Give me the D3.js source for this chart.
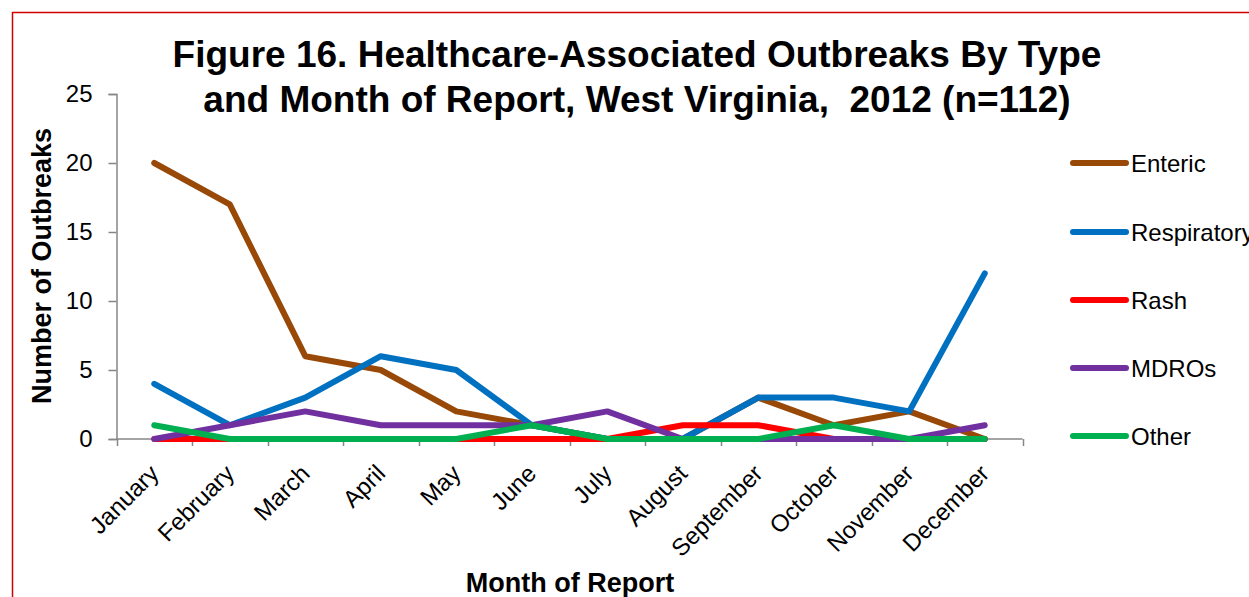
<!DOCTYPE html>
<html>
<head>
<meta charset="utf-8">
<script src="https://cdn.jsdelivr.net/npm/d3@7"></script>
<style>
  html, body { margin: 0; padding: 0; background: #fff; }
  svg { display: block; font-family: Arial, "Liberation Sans", sans-serif; }
</style>
</head>
<body>
<svg id="chart" width="1249" height="597"></svg>
<script>
// Healthcare-associated outbreaks by type and month, West Virginia 2012
const months = ["January", "February", "March", "April", "May", "June",
                "July", "August", "September", "October", "November", "December"];
const enteric     = [20, 17, 6, 5, 2, 1, 0, 0, 3, 1, 2, 0];
const respiratory = [4, 1, 3, 6, 5, 1, 0, 0, 3, 3, 2, 12];
const rash        = [0, 0, 0, 0, 0, 0, 0, 1, 1, 0, 0, 0];
const mdros       = [0, 1, 2, 1, 1, 1, 2, 0, 0, 0, 0, 1];
const other       = [1, 0, 0, 0, 0, 1, 0, 0, 0, 1, 0, 0];
const seriesNames = ["Enteric", "Respiratory", "Rash", "MDROs", "Other"];
const seriesColors = ["#984807", "#0070C0", "#FF0000", "#7030A0", "#00B050"];
const yTicks = [0, 5, 10, 15, 20, 25];

const series = [enteric, respiratory, rash, mdros, other].map((vals, i) => ({
  name: seriesNames[i], color: seriesColors[i], values: vals
}));

const FONT = "Arial, 'Liberation Sans', sans-serif";
const svg = d3.select("#chart");

// outer frame
svg.append("rect")
  .attr("x", 12.5).attr("y", 12.5)
  .attr("width", 1260).attr("height", 600)
  .attr("fill", "none").attr("stroke", "#d00000").attr("stroke-width", 1.5);

const x = d3.scaleBand().domain(months).range([116.5, 1022.5]);
const y = d3.scaleLinear().domain([0, 25]).range([439, 94]);

// y axis
const yAxis = svg.append("g").attr("transform", "translate(116.5,0)")
  .call(d3.axisLeft(y).tickValues(yTicks).tickSize(8).tickSizeOuter(8).tickPadding(16));
yAxis.select(".domain").attr("stroke", "#868686").attr("stroke-width", 1.5);
yAxis.selectAll(".tick line").attr("stroke", "#868686").attr("stroke-width", 1.5);
yAxis.selectAll(".tick text").attr("font-size", 24).attr("fill", "#000")
  .attr("font-family", FONT);

// x axis with ticks on band boundaries
const xAxisG = svg.append("g").attr("transform", "translate(0,439)");
xAxisG.append("line")
  .attr("x1", 116.5).attr("x2", 1022.5).attr("y1", 0).attr("y2", 0)
  .attr("stroke", "#868686").attr("stroke-width", 1.5);
const boundaries = months.map(m => x(m)).concat([x.range()[1]]);
xAxisG.selectAll("line.tk").data(boundaries).join("line")
  .attr("class", "tk")
  .attr("x1", d => Math.round(d) + 0.5).attr("x2", d => Math.round(d) + 0.5)
  .attr("y1", 0).attr("y2", 7)
  .attr("stroke", "#868686").attr("stroke-width", 1.5);
xAxisG.selectAll("text.mlabel").data(months).join("text")
  .attr("class", "mlabel")
  .attr("text-anchor", "end")
  .attr("font-size", 24)
  .attr("transform", d => `translate(${x(d) + x.bandwidth() / 2 + 6},${36}) rotate(-45)`)
  .text(d => d);

// series lines
const line = d3.line()
  .x((d, i) => x(months[i]) + x.bandwidth() / 2)
  .y(d => y(d));

svg.append("g").selectAll("path").data(series).join("path")
  .attr("d", d => line(d.values))
  .attr("fill", "none")
  .attr("stroke", d => d.color)
  .attr("stroke-width", 6)
  .attr("stroke-linejoin", "round")
  .attr("stroke-linecap", "round");

// legend
const legend = svg.append("g");
const legendY = [163, 232, 300, 368, 436];
series.forEach((s, i) => {
  legend.append("line")
    .attr("x1", 1073).attr("x2", 1126)
    .attr("y1", legendY[i]).attr("y2", legendY[i])
    .attr("stroke", s.color).attr("stroke-width", 6)
    .attr("stroke-linecap", "round");
  legend.append("text")
    .attr("x", 1131).attr("y", legendY[i] + 8.5)
    .attr("font-size", 24)
    .text(s.name);
});

// title
const title = svg.append("text")
  .attr("text-anchor", "middle")
  .attr("font-size", 37).attr("font-weight", "bold");
title.append("tspan").attr("x", 637).attr("y", 67)
  .text("Figure 16. Healthcare-Associated Outbreaks By Type");
title.append("tspan").attr("x", 637).attr("y", 112)
  .style("white-space", "pre")
  .text("and Month of Report, West Virginia,  2012 (n=112)");

// axis titles
svg.append("text")
  .attr("transform", "translate(51,266) rotate(-90)")
  .attr("text-anchor", "middle")
  .attr("font-size", 27).attr("font-weight", "bold")
  .text("Number of Outbreaks");

svg.append("text")
  .attr("x", 570).attr("y", 592)
  .attr("text-anchor", "middle")
  .attr("font-size", 27).attr("font-weight", "bold")
  .text("Month of Report");
</script>
</body>
</html>
